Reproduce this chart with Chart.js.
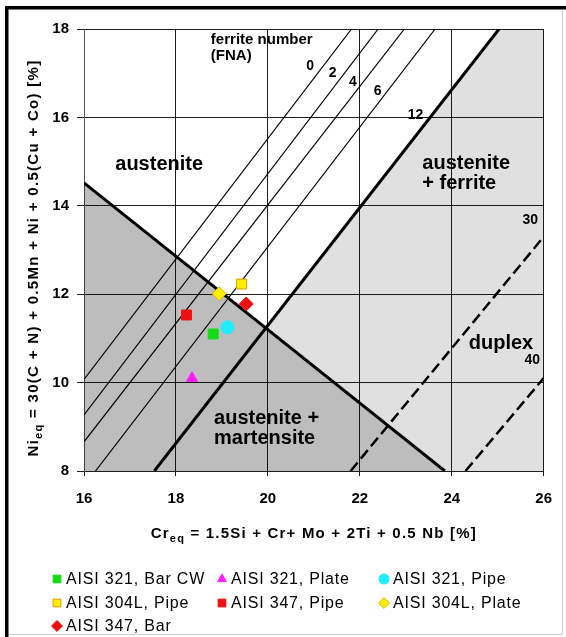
<!DOCTYPE html>
<html>
<head>
<meta charset="utf-8">
<title>Constitution diagram</title>
<script src="https://cdn.jsdelivr.net/npm/chart.js@4.4.1/dist/chart.umd.min.js"></script>
<style>
  body { margin: 0; background: #fff; }
  #wrap { width: 566px; height: 637px; }
</style>
</head>
<body>
<div id="wrap"><canvas id="diagram" width="566" height="637"></canvas></div>
<script>
// samples, Cr_eq / Ni_eq in %
const sampleNames = ['AISI 321, Bar CW', 'AISI 321, Plate', 'AISI 321, Pipe',
  'AISI 304L, Pipe', 'AISI 347, Pipe', 'AISI 304L, Plate', 'AISI 347, Bar'];
const sampleCr = [18.81, 18.35, 19.12, 19.43, 18.23, 18.94, 19.53];
const sampleNi = [11.10, 10.10, 11.25, 12.23, 11.53, 12.01, 11.78];

// iso-ferrite lines (FN), start and end points
const fnNames = ['0', '2', '4', '6', '12', '30', '40'];
const fnCrFrom = [16, 16, 16, 16.25, 17.53, 21.8, 24.3];
const fnNiFrom = [10.07, 9.27, 8.66, 8, 8, 8, 8];
const fnCrTo = [21.82, 22.4, 22.97, 23.64, 25.03, 26, 26];
const fnNiTo = [18, 18, 18, 18, 18, 13.3, 10.1];

// austenite / martensite boundary
const martCr = [16, 23.85];
const martNi = [14.52, 8];

// phase fields, polygon corners
const martFieldCr = [16, 16, 23.85];
const martFieldNi = [8, 14.52, 8];
const ferriteFieldCr = [19.95, 25.03, 26, 26, 23.85];
const ferriteFieldNi = [11.23, 18, 18, 8, 8];

const xTicks = [16, 18, 20, 22, 24, 26];
const yTicks = [8, 10, 12, 14, 16, 18];

const FONT = "'Liberation Sans', Arial, sans-serif";

const markerStyles = [
  { pointStyle: 'rect', radius: 7, fill: '#14dc14', edge: '#14dc14' },
  { pointStyle: 'triangle', radius: 6.5, fill: '#ff1eff', edge: '#ff1eff' },
  { pointStyle: 'circle', radius: 6.5, fill: '#1eeeff', edge: '#1eeeff' },
  { pointStyle: 'rect', radius: 7, fill: '#ffee00', edge: '#d49c00' },
  { pointStyle: 'rect', radius: 7, fill: '#ee1010', edge: '#ee1010' },
  { pointStyle: 'rectRot', radius: 7, fill: '#ffee00', edge: '#cfb800' },
  { pointStyle: 'rectRot', radius: 7, fill: '#ee1010', edge: '#ee1010' }
];

const pts = (xs, ys) => xs.map((x, i) => ({ x: x, y: ys[i] }));

const sampleSets = sampleNames.map((name, i) => ({
  label: name,
  data: [{ x: sampleCr[i], y: sampleNi[i] }],
  pointStyle: markerStyles[i].pointStyle,
  pointRadius: markerStyles[i].radius,
  backgroundColor: markerStyles[i].fill,
  borderColor: markerStyles[i].edge,
  borderWidth: 1
}));

const fnSets = fnNames.map((name, i) => ({
  type: 'line',
  label: 'FN ' + name,
  data: pts([fnCrFrom[i], fnCrTo[i]], [fnNiFrom[i], fnNiTo[i]]),
  borderColor: '#000',
  borderWidth: name === '12' ? 3 : (i > 4 ? 2.5 : 1.2),
  borderDash: i > 4 ? [11, 5] : [],
  pointRadius: 0,
  fill: false
}));

const martLine = {
  type: 'line',
  label: 'martensite boundary',
  data: pts(martCr, martNi),
  borderColor: '#000',
  borderWidth: 3,
  pointRadius: 0,
  fill: false
};

const fieldSets = [
  {
    type: 'line',
    label: 'austenite + ferrite field',
    data: pts(ferriteFieldCr, ferriteFieldNi),
    borderWidth: 0,
    pointRadius: 0,
    backgroundColor: 'rgba(0,0,0,0.12)',
    fill: 'shape'
  },
  {
    type: 'line',
    label: 'austenite + martensite field',
    data: pts(martFieldCr, martFieldNi),
    borderWidth: 0,
    pointRadius: 0,
    backgroundColor: 'rgba(0,0,0,0.26)',
    fill: 'shape'
  }
];

// text placed in the diagram, anchored in data units
const notes = [
  { text: 'ferrite number', x: 18.76, y: 17.75, size: 15, align: 'left' },
  { text: '(FNA)', x: 18.76, y: 17.40, size: 15, align: 'left' },
  { text: 'austenite', x: 16.68, y: 14.93, size: 20, align: 'left' },
  { text: 'austenite', x: 23.36, y: 14.96, size: 20, align: 'left' },
  { text: '+ ferrite', x: 23.36, y: 14.51, size: 20, align: 'left' },
  { text: 'austenite +', x: 18.83, y: 9.19, size: 20, align: 'left' },
  { text: 'martensite', x: 18.83, y: 8.73, size: 20, align: 'left' },
  { text: 'duplex', x: 24.37, y: 10.89, size: 20, align: 'left' }
];
const fnTagCr = [20.92, 21.41, 21.85, 22.39, 23.21, 25.71, 25.75];
const fnTagNi = [17.15, 17.0, 16.79, 16.59, 16.04, 13.68, 10.51];

// draws text with a subscript part, starting at x
function subText(ctx, x, y, main, sub, rest, size) {
  ctx.font = 'bold ' + size + 'px ' + FONT;
  ctx.fillText(main, x, y);
  x += ctx.measureText(main).width;
  ctx.font = 'bold ' + Math.round(size * 0.7) + 'px ' + FONT;
  ctx.fillText(sub, x, y + size * 0.3);
  x += ctx.measureText(sub).width;
  ctx.font = 'bold ' + size + 'px ' + FONT;
  ctx.fillText(rest, x, y);
}

function subWidth(ctx, main, sub, rest, size) {
  ctx.font = 'bold ' + size + 'px ' + FONT;
  let w = ctx.measureText(main).width + ctx.measureText(rest).width;
  ctx.font = 'bold ' + Math.round(size * 0.7) + 'px ' + FONT;
  return w + ctx.measureText(sub).width;
}

const diagramText = {
  id: 'diagramText',
  beforeDraw(chart) {
    const { ctx, width, height } = chart;
    ctx.save();
    ctx.fillStyle = '#fff';
    ctx.fillRect(0, 0, width, height);
    // frame
    ctx.fillStyle = '#000';
    ctx.fillRect(5, 6, width - 5, 3.5);
    ctx.fillRect(5, 6, 3.5, height - 6);
    ctx.strokeStyle = '#cfcfcf';
    ctx.lineWidth = 1;
    ctx.beginPath();
    ctx.moveTo(width - 3.5, 10);
    ctx.lineTo(width - 3.5, height - 2.5);
    ctx.lineTo(9, height - 2.5);
    ctx.stroke();
    ctx.restore();
  },
  afterDatasetsDraw(chart) {
    const { ctx, scales: { x, y } } = chart;
    ctx.save();
    ctx.fillStyle = '#000';
    ctx.textBaseline = 'middle';
    notes.forEach(n => {
      ctx.font = 'bold ' + n.size + 'px ' + FONT;
      ctx.textAlign = n.align;
      ctx.fillText(n.text, x.getPixelForValue(n.x), y.getPixelForValue(n.y));
    });
    ctx.font = 'bold 14px ' + FONT;
    ctx.textAlign = 'center';
    fnNames.forEach((t, i) => {
      ctx.fillText(t, x.getPixelForValue(fnTagCr[i]), y.getPixelForValue(fnTagNi[i]));
    });
    ctx.restore();
  },
  afterDraw(chart) {
    const { ctx, chartArea } = chart;
    ctx.save();
    ctx.fillStyle = '#000';
    ctx.textBaseline = 'middle';
    ctx.textAlign = 'left';

    // x axis title, centred under the plot
    ctx.save();
    ctx.letterSpacing = '1.2px';
    const restX = ' = 1.5Si + Cr+ Mo + 2Ti + 0.5 Nb [%]';
    const wx = subWidth(ctx, 'Cr', 'eq', restX, 15);
    subText(ctx, (chartArea.left + chartArea.right - wx) / 2, 534, 'Cr', 'eq', restX, 15);
    ctx.restore();

    // y axis title
    ctx.save();
    ctx.translate(34, (chartArea.top + chartArea.bottom) / 2 + 8);
    ctx.rotate(-Math.PI / 2);
    ctx.letterSpacing = '1.3px';
    const restY = ' = 30(C + N) + 0.5Mn + Ni + 0.5(Cu + Co) [%]';
    const wy = subWidth(ctx, 'Ni', 'eq', restY, 15);
    subText(ctx, -wy / 2, 0, 'Ni', 'eq', restY, 15);
    ctx.restore();

    // legend in three columns
    const colX = [66, 231, 393];
    const rowY = [579, 603, 626];
    sampleNames.forEach((name, i) => {
      const cx = colX[i % 3];
      const cy = rowY[Math.floor(i / 3)];
      const m = markerStyles[i];
      ctx.fillStyle = m.fill;
      ctx.strokeStyle = m.edge;
      ctx.lineWidth = 1;
      Chart.helpers.drawPoint(ctx, {
        pointStyle: m.pointStyle,
        radius: m.radius * 0.78,
        rotation: 0,
        borderWidth: 1
      }, cx - 9, cy);
      ctx.fillStyle = '#000';
      ctx.font = '16px ' + FONT;
      ctx.letterSpacing = '0.8px';
      ctx.fillText(name, cx, cy + 1);
      ctx.letterSpacing = '0px';
    });
    ctx.restore();
  }
};

new Chart(document.getElementById('diagram'), {
  type: 'scatter',
  data: {
    datasets: [...sampleSets, ...fnSets, martLine, ...fieldSets]
  },
  options: {
    responsive: false,
    animation: false,
    events: [],
    layout: { padding: { top: 29, right: 15, left: 0, bottom: 0 } },
    plugins: {
      legend: { display: false },
      tooltip: { enabled: false }
    },
    scales: {
      x: {
        type: 'linear',
        min: xTicks[0],
        max: xTicks[xTicks.length - 1],
        afterFit(scale) { scale.height = 166; },
        afterBuildTicks(scale) { scale.ticks = xTicks.map(v => ({ value: v })); },
        grid: { color: '#1e1e1e', lineWidth: 1, tickLength: 5 },
        border: { color: '#1e1e1e' },
        ticks: {
          padding: 14,
          color: '#000',
          font: { family: FONT, size: 15, weight: 'bold' }
        }
      },
      y: {
        type: 'linear',
        min: yTicks[0],
        max: yTicks[yTicks.length - 1],
        afterFit(scale) { scale.width = 84; },
        afterBuildTicks(scale) { scale.ticks = yTicks.map(v => ({ value: v })); },
        grid: { color: '#1e1e1e', lineWidth: 1, tickLength: 7 },
        border: { color: '#555' },
        ticks: {
          padding: 8,
          color: '#000',
          font: { family: FONT, size: 15, weight: 'bold' }
        }
      }
    }
  },
  plugins: [diagramText]
});
</script>
</body>
</html>
